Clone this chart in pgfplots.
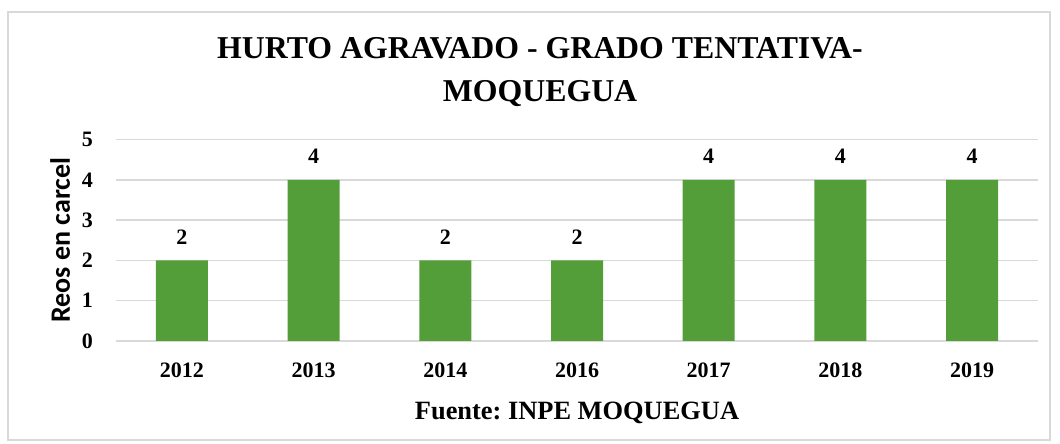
\documentclass[border=0pt]{standalone}
\usepackage{pgfplots}
\pgfplotsset{compat=1.18}
\usepackage{fontspec}
\setmainfont{Liberation Serif}
\newfontfamily\carlito{Carlito}
\definecolor{bargreen}{RGB}{84,158,58}
\definecolor{gridgray}{RGB}{217,217,217}
\begin{document}
\frenchspacing
\begin{tikzpicture}
\path[use as bounding box] (-58pt,-51.5pt) rectangle (472pt,170.5pt);
\draw[gridgray, line width=0.6pt] (-54pt,-49.5pt) rectangle (467pt,164.5pt);
\begin{axis}[
  at={(0,0)}, anchor=south west,
  scale only axis,
  width=461pt, height=100.75pt,
  xmin=-0.5, xmax=6.5, ymin=0, ymax=5,
  xtick={0,1,2,3,4,5,6},
  xticklabels={2012,2013,2014,2016,2017,2018,2019},
  ytick={0,1,2,3,4,5},
  ymajorgrids,
  grid style={gridgray, line width=0.7pt},
  axis line style={draw=none},
  tick style={draw=none},
  ticklabel style={font=\fontsize{11}{13}\selectfont\bfseries},
  /pgf/number format/assume math mode=true,
  yticklabel style={xshift=-8pt},
  xticklabel style={yshift=-7.5pt},
  xlabel={\fontsize{13.2}{15}\selectfont\bfseries Fuente: INPE MOQUEGUA},
  xlabel style={yshift=-5pt},
  ylabel={\carlito\fontsize{14}{16}\selectfont\bfseries Reos en carcel},
  ylabel style={at={(axis description cs:-0.0607,0.5)}, anchor=center},
  clip=false,
]
\addplot[ybar, bar width=26pt, fill=bargreen, draw=none,
  nodes near coords,
  nodes near coords style={font=\fontsize{11}{13}\selectfont\bfseries, anchor=south, yshift=4.5pt},
] coordinates {(0,2) (1,4) (2,2) (3,2) (4,4) (5,4) (6,4)};
\end{axis}
\node[font=\fontsize{15.9}{21.5}\selectfont\bfseries, align=center] at (212pt,134.5pt) {HURTO AGRAVADO - GRADO TENTATIVA-\\MOQUEGUA};
\end{tikzpicture}
\end{document}
